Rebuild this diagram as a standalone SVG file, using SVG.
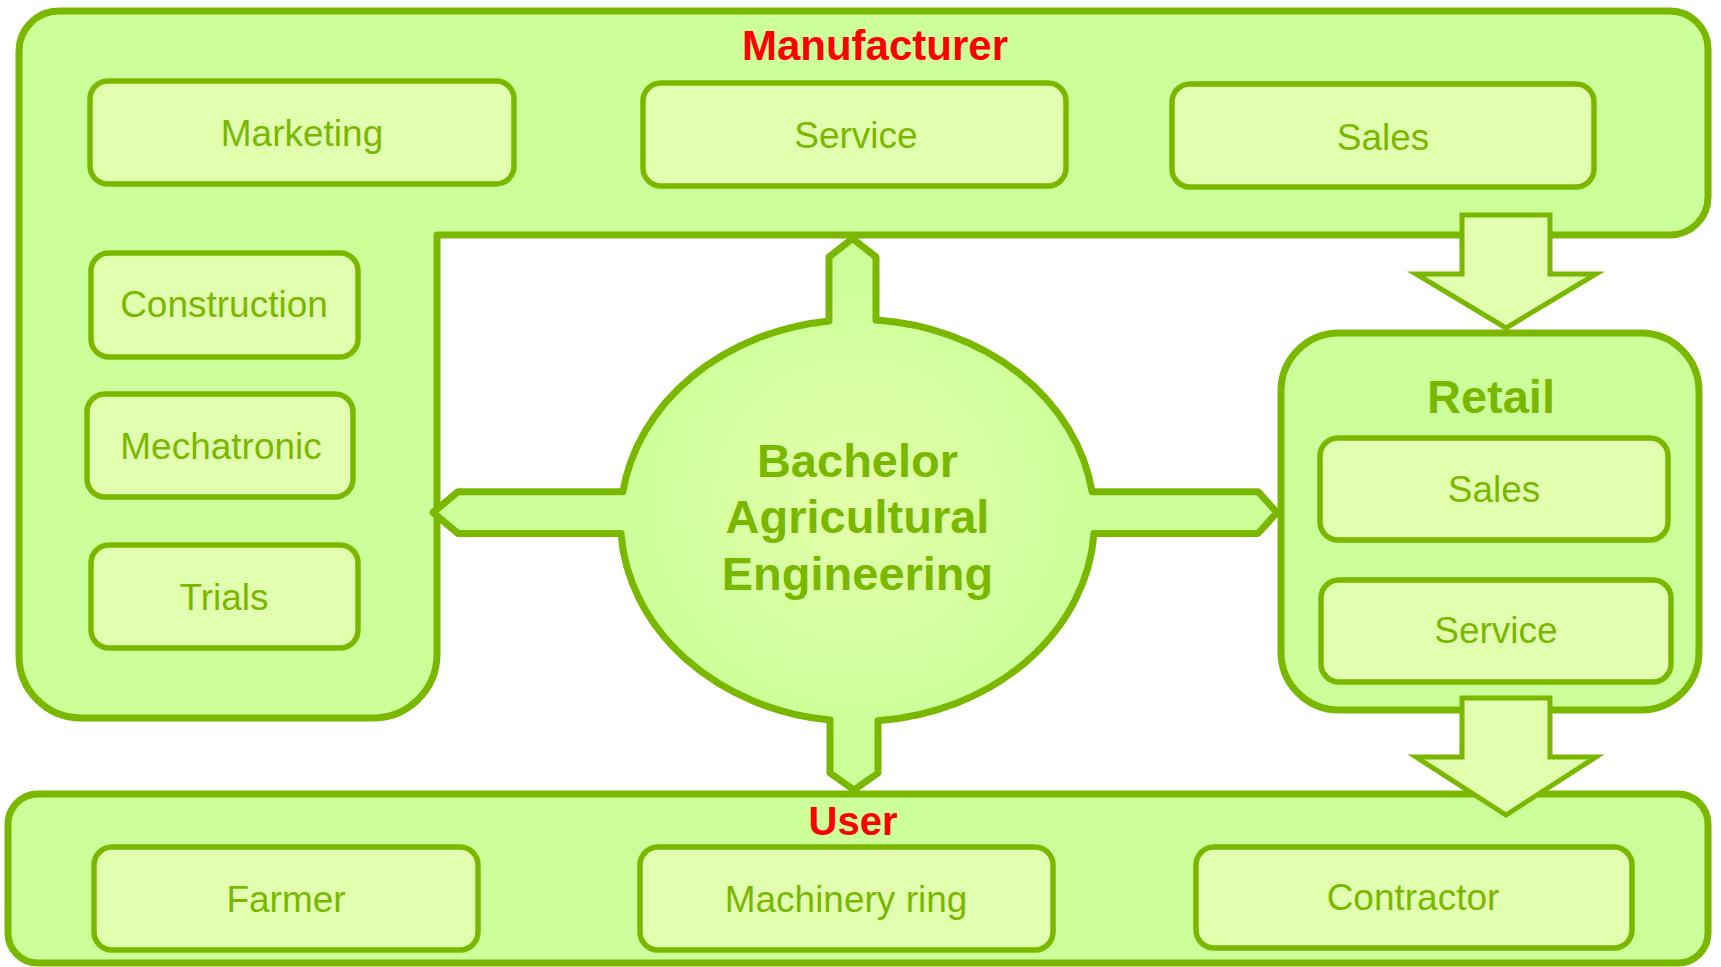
<svg xmlns="http://www.w3.org/2000/svg" width="1721" height="967" viewBox="0 0 1721 967">
<defs>
<radialGradient id="hubGrad" cx="857" cy="500" r="240" gradientUnits="userSpaceOnUse">
<stop offset="0" stop-color="#E3FFA9"/>
<stop offset="1" stop-color="#CCFF99"/>
</radialGradient>
</defs>
<style>
.outer{fill:#CCFF99;stroke:#7AB800;stroke-width:7;stroke-linejoin:round}
.box{fill:#E1FFAF;stroke:#7AB800;stroke-width:5.5}
.lbl{font-family:"Liberation Sans",Arial,sans-serif;font-size:37px;fill:#7AB800;text-anchor:middle}
.title{font-family:"Liberation Sans",Arial,sans-serif;font-weight:bold;fill:#FF0000;text-anchor:middle}
.hubtxt{font-family:"Liberation Sans",Arial,sans-serif;font-weight:bold;font-size:47px;fill:#7AB800;text-anchor:middle}
.bigarrow{fill:#E1FFAF;stroke:#7AB800;stroke-width:5;stroke-linejoin:miter}
</style>
<rect width="1721" height="967" fill="#FFFFFF"/>

<g id="manufacturer">
<path class="outer" d="M59,11 H1670 A38,38 0 0 1 1708,49 V197 A38,38 0 0 1 1670,235 H437 V654 A64,64 0 0 1 373,718 H81 A62,62 0 0 1 19,656 V51 A40,40 0 0 1 59,11 Z"/>
<text class="title" x="875" y="60" font-size="42">Manufacturer</text>
</g>
<g id="retail">
<rect class="outer" x="1281" y="333" width="418" height="377" rx="58"/>
<text class="hubtxt" x="1491" y="413" font-size="52">Retail</text>
</g>
<g id="user">
<rect class="outer" x="8" y="794" width="1700" height="169" rx="30"/>
<text class="title" x="853" y="835" font-size="40">User</text>
</g>

<g id="marketing"><rect class="box" x="90" y="81" width="424" height="103" rx="18"/><text class="lbl" x="302" y="146">Marketing</text></g>
<g id="m-service"><rect class="box" x="643" y="83" width="423" height="103" rx="18"/><text class="lbl" x="856" y="148">Service</text></g>
<g id="m-sales"><rect class="box" x="1172" y="84" width="422" height="103" rx="18"/><text class="lbl" x="1383" y="150">Sales</text></g>
<g id="construction"><rect class="box" x="91" y="253" width="267" height="104" rx="18"/><text class="lbl" x="224" y="317">Construction</text></g>
<g id="mechatronic"><rect class="box" x="87" y="394" width="266" height="103" rx="18"/><text class="lbl" x="221" y="459">Mechatronic</text></g>
<g id="trials"><rect class="box" x="91" y="545" width="267" height="103" rx="18"/><text class="lbl" x="224" y="610">Trials</text></g>
<g id="r-sales"><rect class="box" x="1320" y="438" width="348" height="102" rx="18"/><text class="lbl" x="1494" y="502">Sales</text></g>
<g id="r-service"><rect class="box" x="1321" y="580" width="350" height="102" rx="18"/><text class="lbl" x="1496" y="643">Service</text></g>
<g id="farmer"><rect class="box" x="94" y="847" width="384" height="103" rx="18"/><text class="lbl" x="286" y="912">Farmer</text></g>
<g id="machinery-ring"><rect class="box" x="640" y="847" width="413" height="103" rx="18"/><text class="lbl" x="846" y="912">Machinery ring</text></g>
<g id="contractor"><rect class="box" x="1196" y="847" width="436" height="101" rx="18"/><text class="lbl" x="1413" y="910">Contractor</text></g>

<g id="bachelor">
<path fill="url(#hubGrad)" stroke="#7AB800" stroke-width="7" stroke-linejoin="round" d="M829,321 V257 L852.5,238.5 L876,257 V320.1 A237,201 0 0 1 1092.1,491.7 H1258 L1277,512.5 L1258,533.5 H1094 A237,201 0 0 1 878,720.75 V773 L854,790 L830,773 V720.1 A237,201 0 0 1 621,533.5 H458 L433,512.5 L458,491.7 H622.9 A237,201 0 0 1 829,321 Z"/>
<text class="hubtxt" x="857.5" y="477">Bachelor</text>
<text class="hubtxt" x="857.5" y="533">Agricultural</text>
<text class="hubtxt" x="857.5" y="590">Engineering</text>
</g>

<g id="connectors">
<path class="bigarrow" d="M1462,215 H1550 V274 H1596 L1506,328 L1416,274 H1462 Z"/>
<path class="bigarrow" d="M1462,698 H1550 V757 H1596 L1506,815 L1416,757 H1462 Z"/>
</g>
</svg>
